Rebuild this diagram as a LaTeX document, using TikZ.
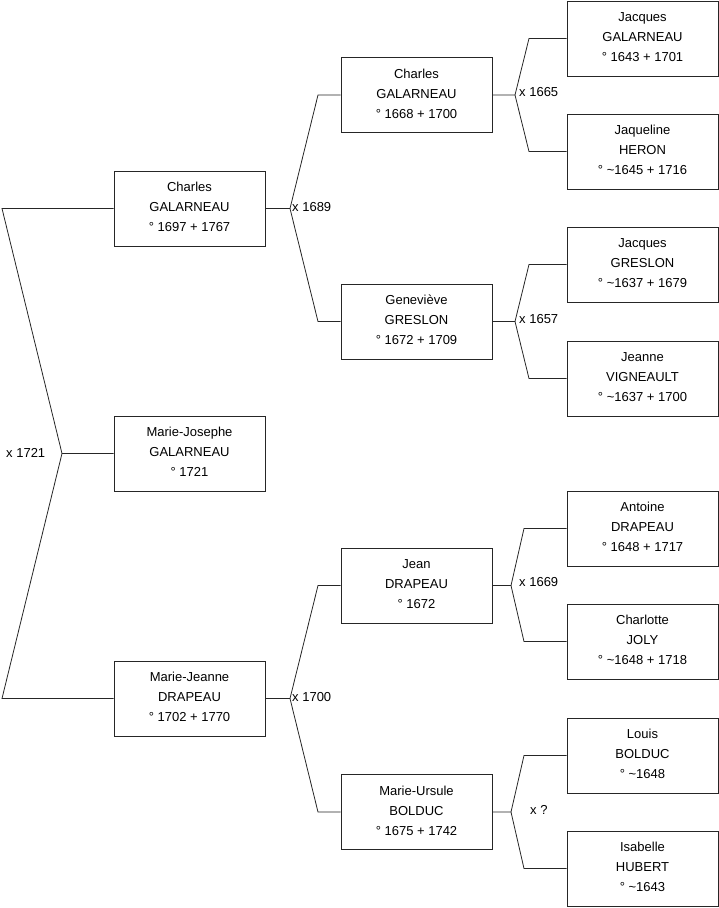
\documentclass[tikz,border=0pt]{standalone}
\usepackage{fontspec}
\setmainfont{Liberation Sans}
\begin{document}
\begin{tikzpicture}[x=1pt,y=-1pt,
  person/.style={draw=black!85,line width=0.8pt,minimum width=151pt,minimum height=75pt,inner sep=0pt,
    align=center,font=\fontsize{13pt}{20pt}\selectfont,
    execute at end node={\rule[-3pt]{0pt}{3pt}}},
  link/.style={draw=black!85,line width=0.8pt},
  marr/.style={anchor=west,inner sep=0pt,font=\fontsize{13pt}{16pt}\selectfont}]
\useasboundingbox (0,0) rectangle (719,908);
% column 1
\node[person] (p1) at (189.5,208.5) {Charles\\GALARNEAU\\° 1697 + 1767};
\node[person] (p0) at (189.5,453.5) {Marie-Josephe\\GALARNEAU\\° 1721};
\node[person] (p2) at (189.5,698.5) {Marie-Jeanne\\DRAPEAU\\° 1702 + 1770};
% column 2
\node[person] (q1) at (416.5,95) {Charles\\GALARNEAU\\° 1668 + 1700};
\node[person] (q2) at (416.5,321.5) {Geneviève\\GRESLON\\° 1672 + 1709};
\node[person] (q3) at (416.5,585.5) {Jean\\DRAPEAU\\° 1672};
\node[person] (q4) at (416.5,812) {Marie-Ursule\\BOLDUC\\° 1675 + 1742};
% column 3
\node[person] (r1) at (642.5,38.5) {Jacques\\GALARNEAU\\° 1643 + 1701};
\node[person] (r2) at (642.5,151.5) {Jaqueline\\HERON\\° \textasciitilde1645 + 1716};
\node[person] (r3) at (642.5,264.5) {Jacques\\GRESLON\\° \textasciitilde1637 + 1679};
\node[person] (r4) at (642.5,378.5) {Jeanne\\VIGNEAULT\\° \textasciitilde1637 + 1700};
\node[person] (r5) at (642.5,528.5) {Antoine\\DRAPEAU\\° 1648 + 1717};
\node[person] (r6) at (642.5,641.5) {Charlotte\\JOLY\\° \textasciitilde1648 + 1718};
\node[person] (r7) at (642.5,755.5) {Louis\\BOLDUC\\° \textasciitilde1648};
\node[person] (r8) at (642.5,868.5) {Isabelle\\HUBERT\\° \textasciitilde1643};
% level 1 connectors
\coordinate (a1) at (2,208.5);
\coordinate (m0) at (62,453.5);
\coordinate (a2) at (2,698.5);
\draw[link] (p1.west) -- (a1) -- (m0) -- (p0.west);
\draw[link] (m0) -- (a2) -- (p2.west);
\node[marr] (l0) at (6,452.5) {x 1721};
% level 2 connectors
\coordinate (b1) at (290,208.5);
\coordinate (c1) at (318,95);
\coordinate (c2) at (318,321.5);
\draw[link] (p1.east) -- (b1) -- (c1) -- (q1.west);
\draw[link] (b1) -- (c2) -- (q2.west);
\node[marr] (l1) at (292,207.5) {x 1689};
\coordinate (b2) at (290,698.5);
\coordinate (c3) at (318,585.5);
\coordinate (c4) at (318,812);
\draw[link] (p2.east) -- (b2) -- (c3) -- (q3.west);
\draw[link] (b2) -- (c4) -- (q4.west);
\node[marr] (l2) at (292,697.5) {x 1700};
% level 3 connectors
\coordinate (d1) at (515,95);
\coordinate (e1) at (529,38.5);
\coordinate (e2) at (529,151.5);
\draw[link] (q1.east) -- (d1) -- (e1) -- (r1.west);
\draw[link] (d1) -- (e2) -- (r2.west);
\node[marr] (l3) at (519,92.5) {x 1665};
\coordinate (d2) at (515,321.5);
\coordinate (e3) at (529,264.5);
\coordinate (e4) at (529,378.5);
\draw[link] (q2.east) -- (d2) -- (e3) -- (r3.west);
\draw[link] (d2) -- (e4) -- (r4.west);
\node[marr] (l4) at (519,319.5) {x 1657};
\coordinate (d3) at (511,585.5);
\coordinate (e5) at (524,528.5);
\coordinate (e6) at (524,641.5);
\draw[link] (q3.east) -- (d3) -- (e5) -- (r5.west);
\draw[link] (d3) -- (e6) -- (r6.west);
\node[marr] (l5) at (519,582.5) {x 1669};
\coordinate (d4) at (511,812);
\coordinate (e7) at (524,755.5);
\coordinate (e8) at (524,868.5);
\draw[link] (q4.east) -- (d4) -- (e7) -- (r7.west);
\draw[link] (d4) -- (e8) -- (r8.west);
\node[marr] (l6) at (530,809.5) {x ?};
\end{tikzpicture}
\end{document}
